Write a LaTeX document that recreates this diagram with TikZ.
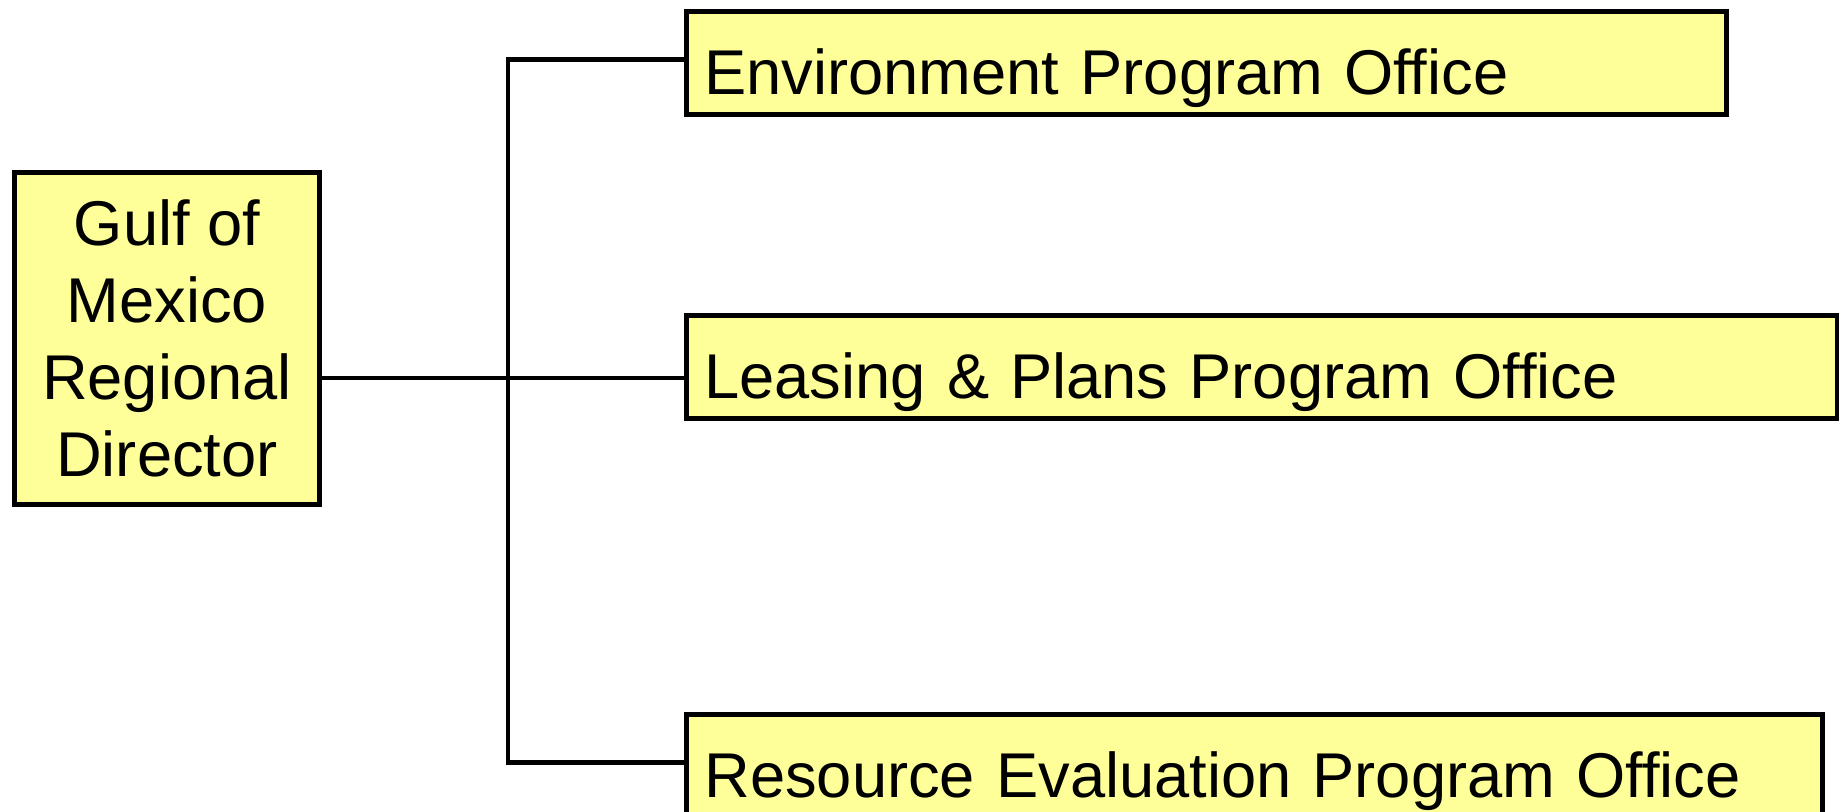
\documentclass[tikz,border=0pt]{standalone}
\usepackage{fontspec}
\setmainfont{Liberation Sans}
\usepackage{tikz}
\usetikzlibrary{positioning}
\definecolor{boxyellow}{RGB}{255,255,153}

\begin{document}
\begin{tikzpicture}[line width=1.4pt,
  office/.style={draw, fill=boxyellow, anchor=north west, inner xsep=0.18cm, inner ysep=0pt,
    text height=0.83cm, text depth=0.20cm, align=left, font=\fontsize{18}{21.9}\selectfont},
  director/.style={draw, fill=boxyellow, anchor=north west, inner sep=0pt, minimum width=3.05cm,
    minimum height=3.32cm, align=center, font=\fontsize{18}{21.9}\selectfont}]
  \useasboundingbox (0,0) rectangle (18.39,8.12);
  \node[director] (gom) at (0.12,6.42) {Gulf of\\Mexico\\Regional\\Director};
  \node[office, text width=10.04cm] (env) at (6.84,8.03) {Environment Program Office};
  \node[office, text width=11.15cm] (lease) at (6.84,4.99) {Leasing \& Plans Program Office};
  \node[office, text width=11.00cm] (res) at (6.84,1.00) {Resource Evaluation Program Office};
  \coordinate (hub) at (5.08,4.34);
  \draw (hub -| gom.east) -- (hub -| lease.west);
  \draw ([yshift=0.035cm]env.west) -- ([yshift=0.035cm]env.west -| hub)
    -- ([yshift=0.035cm]res.west -| hub) -- ([yshift=0.035cm]res.west);
\end{tikzpicture}
\end{document}
